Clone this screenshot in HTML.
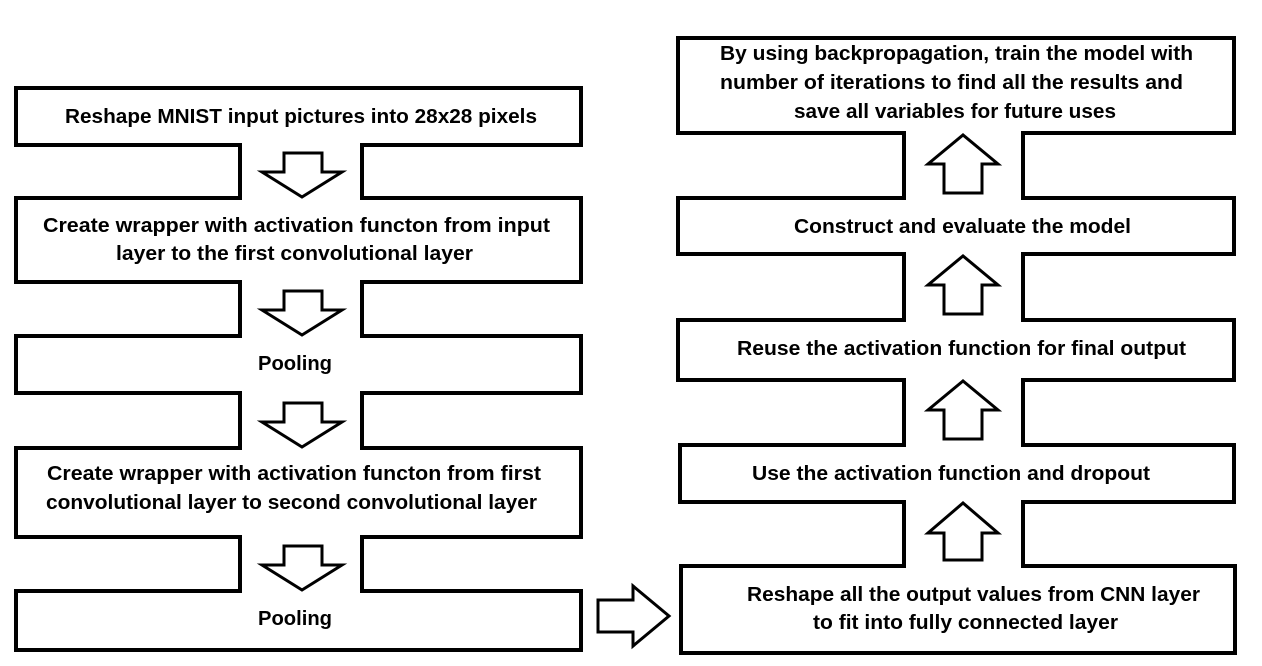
<!DOCTYPE html>
<html><head><meta charset="utf-8"><style>
html,body{margin:0;padding:0;background:#fff;}
svg{display:block;}
text{font-family:"Liberation Sans",sans-serif;font-weight:bold;font-size:20px;fill:#000;}
</style></head><body>
<svg width="1262" height="666" viewBox="0 0 1262 666" xmlns="http://www.w3.org/2000/svg">
<g fill="none" stroke="#000" stroke-width="4">
<rect x="16" y="88" width="565" height="57"/>
<rect x="16" y="198" width="565" height="84"/>
<rect x="16" y="336" width="565" height="57"/>
<rect x="16" y="448" width="565" height="89"/>
<rect x="16" y="591" width="565" height="59"/>
<rect x="678" y="38" width="556" height="95"/>
<rect x="678" y="198" width="556" height="56"/>
<rect x="678" y="320" width="556" height="60"/>
<rect x="680" y="445" width="554" height="57"/>
<rect x="681" y="566" width="554" height="87"/>
</g>
<g fill="#fff">
<rect x="242" y="140" width="118" height="62"/>
<rect x="242" y="277" width="118" height="63"/>
<rect x="242" y="388" width="118" height="64"/>
<rect x="242" y="532" width="118" height="63"/>
<rect x="906" y="128" width="115" height="74"/>
<rect x="906" y="249" width="115" height="75"/>
<rect x="906" y="375" width="115" height="74"/>
<rect x="906" y="497" width="115" height="73"/>
</g>
<g stroke="#000" stroke-width="4">
<line x1="240" y1="143" x2="240" y2="200"/><line x1="362" y1="143" x2="362" y2="200"/>
<line x1="240" y1="280" x2="240" y2="338"/><line x1="362" y1="280" x2="362" y2="338"/>
<line x1="240" y1="391" x2="240" y2="450"/><line x1="362" y1="391" x2="362" y2="450"/>
<line x1="240" y1="535" x2="240" y2="593"/><line x1="362" y1="535" x2="362" y2="593"/>
<line x1="904" y1="131" x2="904" y2="200"/><line x1="1023" y1="131" x2="1023" y2="200"/>
<line x1="904" y1="252" x2="904" y2="322"/><line x1="1023" y1="252" x2="1023" y2="322"/>
<line x1="904" y1="378" x2="904" y2="447"/><line x1="1023" y1="378" x2="1023" y2="447"/>
<line x1="904" y1="500" x2="904" y2="568"/><line x1="1023" y1="500" x2="1023" y2="568"/>
</g>
<g fill="#fff" stroke="#000" stroke-width="3" stroke-linejoin="miter">
<polygon points="284,153 322,153 322,172 342,172 302,197 262,172 284,172"/>
<polygon points="284,291 322,291 322,310 342,310 302,335 262,310 284,310"/>
<polygon points="284,403 322,403 322,422 342,422 302,447 262,422 284,422"/>
<polygon points="284,546 322,546 322,565 342,565 302,590 262,565 284,565"/>
<polygon points="944,193 982,193 982,164 998,164 963,135 928,164 944,164"/>
<polygon points="944,314 982,314 982,285 998,285 963,256 928,285 944,285"/>
<polygon points="944,439 982,439 982,410 998,410 963,381 928,410 944,410"/>
<polygon points="944,560 982,560 982,533 998,533 963,503 928,533 944,533"/>
<polygon points="598,600 633,600 633,586 669,616 633,646 633,632 598,632"/>
</g>
<text x="65" y="123" textLength="472" lengthAdjust="spacingAndGlyphs">Reshape MNIST input pictures into 28x28 pixels</text>
<text x="43" y="232" textLength="507" lengthAdjust="spacingAndGlyphs">Create wrapper with activation functon from input</text>
<text x="116" y="260" textLength="357" lengthAdjust="spacingAndGlyphs">layer to the first convolutional layer</text>
<text x="258" y="370" textLength="74" lengthAdjust="spacingAndGlyphs">Pooling</text>
<text x="47" y="480" textLength="494" lengthAdjust="spacingAndGlyphs">Create wrapper with activation functon from first</text>
<text x="46" y="509" textLength="491" lengthAdjust="spacingAndGlyphs">convolutional layer to second convolutional layer</text>
<text x="258" y="625" textLength="74" lengthAdjust="spacingAndGlyphs">Pooling</text>
<text x="720" y="60" textLength="473" lengthAdjust="spacingAndGlyphs">By using backpropagation, train the model with</text>
<text x="720" y="89" textLength="463" lengthAdjust="spacingAndGlyphs">number of iterations to find all the results and</text>
<text x="794" y="118" textLength="322" lengthAdjust="spacingAndGlyphs">save all variables for future uses</text>
<text x="794" y="233" textLength="337" lengthAdjust="spacingAndGlyphs">Construct and evaluate the model</text>
<text x="737" y="355" textLength="449" lengthAdjust="spacingAndGlyphs">Reuse the activation function for final output</text>
<text x="752" y="480" textLength="398" lengthAdjust="spacingAndGlyphs">Use the activation function and dropout</text>
<text x="747" y="601" textLength="453" lengthAdjust="spacingAndGlyphs">Reshape all the output values from CNN layer</text>
<text x="813" y="629" textLength="305" lengthAdjust="spacingAndGlyphs">to fit into fully connected layer</text>
</svg>
</body></html>
